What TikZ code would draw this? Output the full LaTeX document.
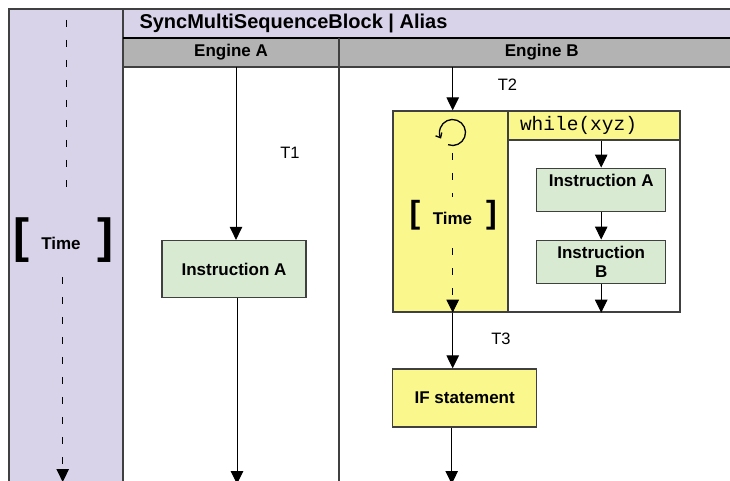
\documentclass[tikz,border=0pt]{standalone}
\usepackage{fontspec}
\setmainfont{Liberation Sans}
\setmonofont{Liberation Mono}
\usetikzlibrary{shapes,backgrounds}
\usetikzlibrary{arrows.meta}

\definecolor{lanepurple}{RGB}{217,211,233}
\definecolor{headgray}{RGB}{179,179,179}
\definecolor{instrgreen}{RGB}{217,234,211}
\definecolor{loopyellow}{RGB}{250,248,140}
\definecolor{rimgray}{RGB}{64,64,64}

\tikzset{
  flow/.style={-{Triangle[width=12.5pt,length=13pt]},line width=1pt},
  timeline/.style={line width=1.4pt,dash pattern=on 7pt off 13pt},
  lanerim/.style={draw=rimgray,line width=1.3pt},
  boxrim/.style={draw=rimgray,line width=1.3pt,inner sep=0pt},
  headtext/.style={font=\fontsize{17}{19.5}\selectfont\bfseries},
  instrbox/.style={boxrim,fill=instrgreen,headtext,align=center},
  bracket/.style={font=\fontsize{#1}{#1}\selectfont\bfseries,inner sep=0pt},
  tlabel/.style={font=\fontsize{16.5}{19}\selectfont}
}

\begin{document}
\begin{tikzpicture}[x=1pt,y=-1pt]
\useasboundingbox (0,0) rectangle (730,481);
\clip (0,0) rectangle (730,481);

% lanes
\filldraw[fill=lanepurple,lanerim] (9,9) rectangle (123,495);
\filldraw[fill=lanepurple,lanerim] (123,9) rectangle (750,38);
\filldraw[fill=headgray,lanerim] (123,38) rectangle (750,67);
\draw[line width=2pt] (123,38) -- (750,38);
\draw[lanerim] (339,38) -- (339,495);
\node[headtext,anchor=west,font=\fontsize{20}{23}\selectfont\bfseries] (title) at (136,23) {SyncMultiSequenceBlock | Alias};
\node[headtext] (engA) at (231,52.5) {Engine A};
\node[headtext] (engB) at (541.7,52.5) {Engine B};

% time lane
\coordinate (timeAtop) at (66.5,20);
\coordinate (timeAmid) at (66.5,188);
\coordinate (timeAlow) at (62.7,277);
\coordinate (timeAend) at (62.7,482);
\draw[timeline] (timeAtop) -- (timeAmid);
\node[bracket=48] (lbrkA) at (21.5,240.5) {[};
\node[headtext] (timeA) at (61,243) {Time};
\node[bracket=48] (rbrkA) at (105,240.5) {]};
\draw[timeline,flow] (timeAlow) -- (timeAend);

% engine A
\coordinate (engAtop) at (236,67);
\coordinate (engAend) at (237,484);
\node[instrbox,minimum width=144pt,minimum height=57pt] (instrA) at (234,269) {Instruction A};
\node[tlabel] (tone) at (290,153) {T1};
\draw[flow] (engAtop) -- (engAtop |- instrA.north);
\draw[flow] (instrA.south -| engAend) -- (engAend);

% engine B: loop block
\node[boxrim,fill=loopyellow,minimum width=115pt,minimum height=201pt] (loopL) at (450.5,211.5) {};
\node[boxrim,fill=white,minimum width=172pt,minimum height=201pt] (loopR) at (594,211.5) {};
\node[boxrim,fill=loopyellow,inner xsep=12pt,text width=148pt,align=left,minimum height=29pt,
      font=\fontsize{19.5}{22}\selectfont\ttfamily] (whilehdr) at (594,125.5) {while(xyz)};
\coordinate (loopicon) at (452.5,132.5);
\draw[line width=1.3pt,-{Straight Barb[length=4pt,width=7pt]}]
  (loopicon) ++(-250:13) arc[start angle=-250,end angle=-568,radius=13];
\coordinate (timeBtop) at (452.7,153);
\coordinate (timeBmid) at (452.7,197);
\coordinate (timeBlow) at (452.7,248);
\draw[timeline] (timeBtop) -- (timeBmid);
\node[bracket=32] (lbrkB) at (415,215.5) {[};
\node[headtext] (timeB) at (452.5,218) {Time};
\node[bracket=32] (rbrkB) at (491.5,215.5) {]};
\draw[timeline,flow] (timeBlow) -- (timeBlow |- loopL.south);

\node[instrbox,minimum width=129pt,minimum height=43pt] (loopinstrA) at (601.2,189.7) {Instruction A\\\mbox{}};
\node[instrbox,minimum width=129pt,minimum height=43pt] (loopinstrB) at (601.2,261.7) {Instruction\\B};
\draw[flow] (whilehdr.south -| loopinstrA.north) -- (loopinstrA.north);
\draw[flow] (loopinstrA) -- (loopinstrB);
\draw[flow] (loopinstrB.south) -- (loopinstrB.south |- loopR.south);

% engine B: in and out
\coordinate (engBtop) at (452.7,67);
\coordinate (engBend) at (451.7,484);
\node[tlabel] (ttwo) at (507.5,85) {T2};
\node[tlabel] (tthree) at (501,339) {T3};
\node[boxrim,fill=loopyellow,headtext,minimum width=144pt,minimum height=58pt] (ifstmt) at (464.7,398) {IF statement};
\draw[flow] (engBtop) -- (engBtop |- loopL.north);
\draw[flow] (timeBtop |- loopL.south) -- (timeBtop |- ifstmt.north);
\draw[flow] (ifstmt.south -| engBend) -- (engBend);

\end{tikzpicture}
\end{document}
